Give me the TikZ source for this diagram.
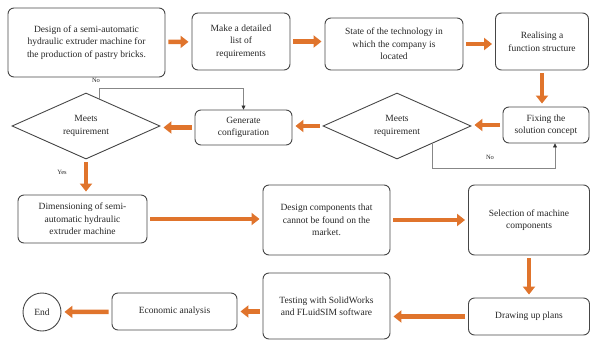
\documentclass[tikz,border=0pt]{standalone}
\usepackage{fontspec}
\setmainfont{Liberation Serif}
\usepackage{xcolor}
\usetikzlibrary{shapes.geometric}
\usetikzlibrary{arrows.meta}
\definecolor{flowor}{RGB}{224,116,44}
\definecolor{boxline}{RGB}{70,70,70}
\definecolor{noline}{RGB}{135,135,135}

\begin{document}
\begin{tikzpicture}[x=1pt, y=-1pt,
		every node/.style={font=\fontsize{9.5}{12.5}\selectfont, text=black!85, align=center},
		stepbox/.style={draw=boxline, line width=0.9pt, rounded corners=6pt, inner sep=2pt},
		choice/.style={draw=boxline, line width=0.9pt, diamond, aspect=2.2, minimum width=148pt, minimum height=66pt, inner sep=1pt},
		flow/.style={color=flowor, line width=4.5pt, -{Triangle[length=8pt,width=12pt]}, shorten <=3pt, shorten >=3pt},
		noarrow/.style={draw=noline, line width=0.7pt, -{Triangle[length=4pt,width=4pt,color=black!80]}},
		tag/.style={font=\fontsize{6.5}{7}\selectfont}]
		\useasboundingbox (0,0) rectangle (590,341);
		
		\node[stepbox, minimum width=157pt, minimum height=69pt] at (86.5,42.5) (design) {Design of a semi-automatic\\hydraulic extruder machine for\\the production of pastry bricks.};
		\node[stepbox, minimum width=98pt, minimum height=57pt] at (241,41.5) (reqlist) {Make a detailed\\list of\\requirements};
		\node[stepbox, minimum width=138pt, minimum height=52pt] at (394,44) (techstate) {State of the technology in\\which the company is\\located};
		\node[stepbox, minimum width=93pt, minimum height=57pt] at (542,41.5) (funcstruct) {Realising a\\function structure};
		
		\node[stepbox, minimum width=86pt, minimum height=36pt] at (546,125) (concept) {Fixing the\\solution concept};
		\node[choice] at (397,126) (meets2) {Meets\\requirement};
		\node[stepbox, minimum width=97pt, minimum height=35pt] at (243.5,127.5) (config) {Generate\\configuration};
		\node[choice] at (86,126) (meets1) {Meets\\requirement};
		
		\node[stepbox, minimum width=129pt, minimum height=48pt] at (82.5,219) (dimension) {Dimensioning of semi-\\automatic hydraulic\\extruder machine};
		\node[stepbox, minimum width=127pt, minimum height=70pt] at (326.5,220) (newparts) {Design components that\\cannot be found on the\\market.};
		\node[stepbox, minimum width=121pt, minimum height=70pt] at (529,220) (selection) {Selection of machine\\components};
		
		\node[stepbox, minimum width=121pt, minimum height=37pt] at (529,316.5) (plans) {Drawing up plans};
		\node[stepbox, minimum width=127pt, minimum height=66pt] at (326.5,306) (testing) {Testing with SolidWorks\\and FLuidSIM software};
		\node[stepbox, minimum width=125pt, minimum height=37pt] at (174.5,311.5) (economy) {Economic analysis};
		\node[draw=boxline, line width=0.9pt, circle, minimum size=38pt, inner sep=0pt] at (42,312) (finish) {End};
		
		\path[flow] (design) edge (reqlist);
		\path[flow] (reqlist.east) edge (reqlist.east -| techstate.west);
		\path[flow] (techstate.east) edge (techstate.east -| funcstruct.west);
		\path[flow] (funcstruct.south) edge (funcstruct.south |- concept.north);
		\path[flow] (concept.west) edge (concept.west -| meets2.east);
		\path[flow] (meets2.west) edge (meets2.west -| config.east);
		\path[flow] (config.west) edge (config.west -| meets1.east);
		\path[flow] (meets1.south) edge (meets1.south |- dimension.north);
		\path[flow] (dimension.east) edge (dimension.east -| newparts.west);
		\path[flow] (newparts) edge (selection);
		\path[flow] (selection) edge (plans);
		\path[flow] (plans.west) edge (plans.west -| testing.east);
		\path[flow] (testing.west |- economy.east) edge (economy.east);
		\path[flow] (economy) edge (finish);
		
		% the two "No" loops
		\coordinate (nocorner1) at (243.5,88);
		\draw[noarrow] (meets1.64) |- (nocorner1) -- (config.north);
		\node[tag] at (96,80) (no1) {No};
		\coordinate (nocorner2) at (555,168);
		\draw[noarrow] (meets2.-26) |- (nocorner2) -- (nocorner2 |- concept.south);
		\node[tag] at (490,157) (no2) {No};
		\node[tag] at (62,172) (yes) {Yes};
	\end{tikzpicture}
\end{document}
